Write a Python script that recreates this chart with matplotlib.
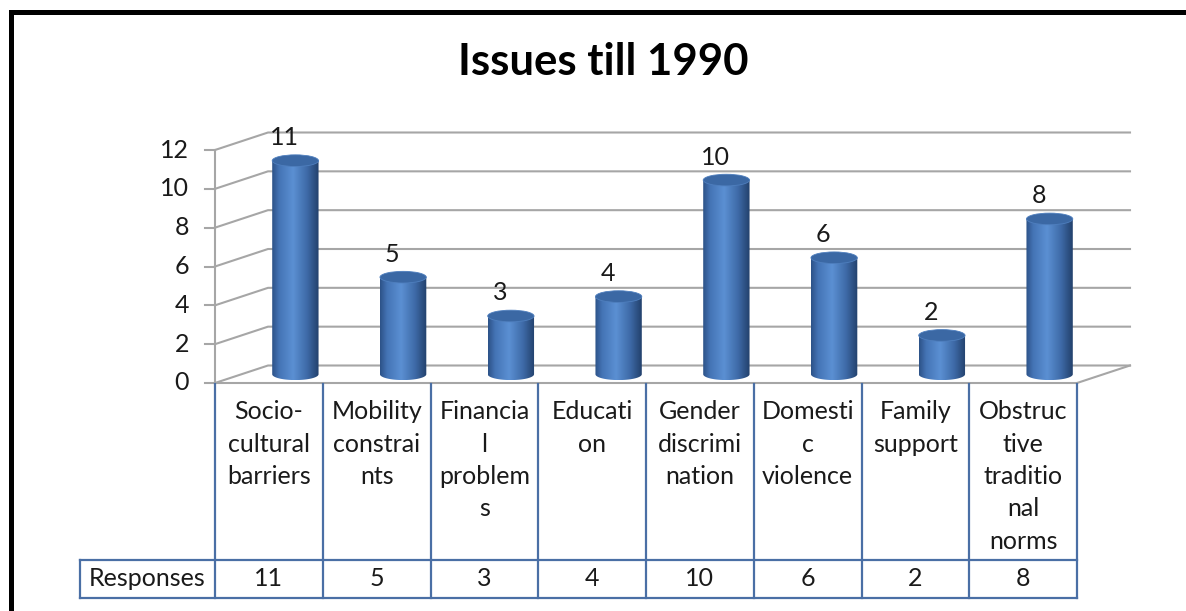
import matplotlib
matplotlib.use("Agg")
import matplotlib.pyplot as plt
import numpy as np
from matplotlib.patches import Ellipse
from matplotlib.path import Path
from matplotlib.colors import LinearSegmentedColormap
from matplotlib.lines import Line2D

plt.rcParams['font.family'] = ['Lato', 'DejaVu Sans']

# ---------------- data ----------------
title = "Issues till 1990"
categories = ["Socio-cultural barriers", "Mobility constraints", "Financial problems",
              "Education", "Gender discrimination", "Domestic violence",
              "Family support", "Obstructive traditional norms"]
category_labels = ["Socio-\ncultural\nbarriers", "Mobility\nconstrai\nnts",
                   "Financia\nl\nproblem\ns", "Educati\non", "Gender\ndiscrimi\nnation",
                   "Domesti\nc\nviolence", "Family\nsupport",
                   "Obstruc\ntive\ntraditio\nnal\nnorms"]
series_name = "Responses"
responses = [11, 5, 3, 4, 10, 6, 2, 8]
y_ticks = [0, 2, 4, 6, 8, 10, 12]

# ---------------- layout ----------------
W, H = 1186, 611
fig = plt.figure(figsize=(W / 100, H / 100), dpi=100)
fig.patch.set_facecolor('white')

x0_px, x1_px = 215, 1077
y0_px, y12_px = 383, 150
ax = fig.add_axes([x0_px / W, (H - y0_px) / H, (x1_px - x0_px) / W, (y0_px - y12_px) / H])
n = len(categories)
ax.set_xlim(-0.5, n - 0.5)
ax.set_ylim(0, 12)
ax.axis('off')

ppx = (x1_px - x0_px) / n          # pixels per category unit
ppy = (y0_px - y12_px) / 12.0      # pixels per value unit
DX = 53 / ppx                      # depth offset (back wall)
DY = 17.5 / ppy

def px_to_y(py):
    return (y0_px - py) / ppy

def px_to_x(px):
    return -0.5 + (px - x0_px) / ppx

txt_c = '#1a1a1a'
grid_c = '#A6A6A6'
glw = 1.5
# floor
ax.plot([-0.5, n - 0.5], [0, 0], color=grid_c, lw=glw, clip_on=False, zorder=1)
ax.plot([n - 0.5, n - 0.5 + DX], [0, DY], color=grid_c, lw=glw, clip_on=False, zorder=1)
# walls / gridlines
for t in y_ticks:
    ax.plot([-0.5, -0.5 + DX, n - 0.5 + DX], [t, t + DY, t + DY],
            color=grid_c, lw=glw, clip_on=False, zorder=1)
    ax.plot([px_to_x(205), -0.5], [t, t], color=grid_c, lw=glw, clip_on=False, zorder=1)
    ax.text(px_to_x(189), t, str(t), ha='right', va='center', fontsize=18, color=txt_c)
ax.plot([-0.5, -0.5], [0, 12], color=grid_c, lw=glw, clip_on=False, zorder=1)

# cylinders
cmap = LinearSegmentedColormap.from_list(
    'cyl', [(0.0, '#2C5187'), (0.15, '#4474B5'), (0.45, '#5B90D3'),
            (0.75, '#3E6AA7'), (1.0, '#22406B')])
grad = np.linspace(0, 1, 256).reshape(1, -1)
bw = 0.43
eh = 0.6
tt = np.linspace(np.pi, 2 * np.pi, 60)
for i, v in enumerate(responses):
    cx = i + DX / 2
    base = DY / 2
    top = v + DY / 2
    verts = [(cx + bw / 2 * np.cos(a), base + eh / 2 * np.sin(a)) for a in tt]
    verts += [(cx + bw / 2, top), (cx - bw / 2, top), verts[0]]
    codes = [Path.MOVETO] + [Path.LINETO] * (len(verts) - 2) + [Path.CLOSEPOLY]
    clip = Path(verts, codes)
    im = ax.imshow(grad, cmap=cmap, aspect='auto', interpolation='bilinear',
                   extent=[cx - bw / 2, cx + bw / 2, base - eh / 2, top], zorder=3)
    im.set_clip_path(clip, transform=ax.transData)
    ax.add_patch(Ellipse((cx, top), bw, eh, facecolor='#3B68A4',
                         edgecolor='#4F7FBE', lw=0.6, zorder=4))
    ax.annotate(str(v), xy=(cx, top), xytext=(-11, 23), textcoords='offset pixels',
                ha='center', va='center', fontsize=18, color=txt_c)

# data table
tab_c = '#4A6FA5'
tlw = 1.6
row1_y = px_to_y(560)
row2_y = px_to_y(598)
top_y = px_to_y(384)
resp_x = px_to_x(80)
for k in range(n + 1):
    ax.plot([k - 0.5, k - 0.5], [top_y, row2_y], color=tab_c, lw=tlw, clip_on=False, zorder=2)
ax.plot([resp_x, n - 0.5], [row1_y, row1_y], color=tab_c, lw=tlw, clip_on=False)
ax.plot([resp_x, n - 0.5], [row2_y, row2_y], color=tab_c, lw=tlw, clip_on=False)
ax.plot([resp_x, resp_x], [row1_y, row2_y], color=tab_c, lw=tlw, clip_on=False)
for i, lab in enumerate(category_labels):
    ax.text(i, px_to_y(400), lab, ha='center', va='top', fontsize=18,
            linespacing=1.5, color=txt_c)
    ax.text(i, (row1_y + row2_y) / 2, str(responses[i]), ha='center', va='center',
            fontsize=18, color=txt_c)
ax.text((resp_x - 0.5) / 2, (row1_y + row2_y) / 2, series_name, ha='center',
        va='center', fontsize=18, color=txt_c)

ax.set_xlim(-0.5, n - 0.5)
ax.set_ylim(0, 12)

# title
fig.text(603 / W, 1 - 62 / H, title, ha='center', va='center', fontsize=31.5,
         fontweight='bold', color='black')

# outer frame (top and left edges visible)
fig.add_artist(Line2D([11 / W, 11 / W, 1.0], [0, 1 - 11.5 / H, 1 - 11.5 / H],
                      transform=fig.transFigure, color='black', lw=3.6,
                      solid_joinstyle='miter'))

fig.savefig('out.png', dpi=100)
